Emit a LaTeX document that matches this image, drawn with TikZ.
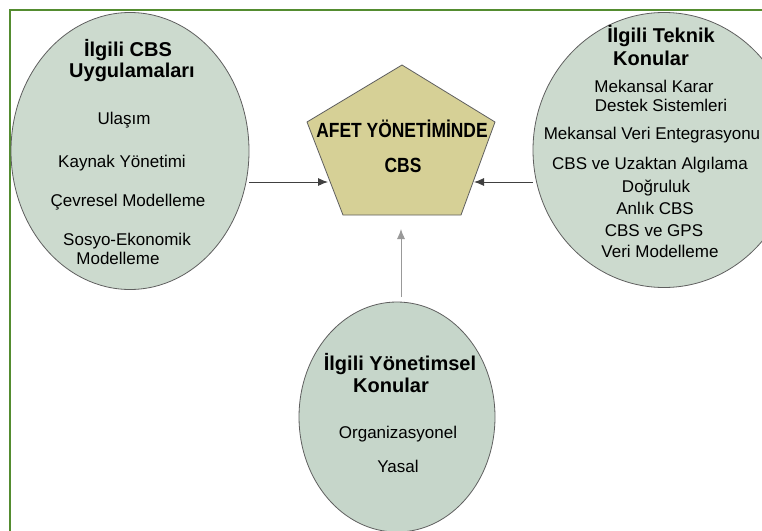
\documentclass[tikz,border=0pt]{standalone}
\usepackage{fontspec}
\setmainfont{Liberation Sans}
\usetikzlibrary{shapes.geometric,arrows.meta}

\definecolor{framegreen}{RGB}{84,140,48}
\definecolor{topicfill}{RGB}{204,218,206}
\definecolor{mgmtfill}{RGB}{198,214,202}
\definecolor{corefill}{RGB}{214,208,150}
\definecolor{rimgray}{RGB}{95,95,95}

\tikzset{
  topic/.style={ellipse, draw=rimgray, line width=0.8pt, fill=topicfill, inner sep=0pt},
  head/.style={anchor=base, inner sep=0pt, font=\fontsize{20}{22}\selectfont\bfseries},
  item/.style={anchor=base, inner sep=0pt, font=\fontsize{17}{19}\selectfont},
  core/.style={anchor=base, inner sep=0pt,
    font=\fontsize{20.5}{23}\selectfont\bfseries\addfontfeature{FakeStretch=0.85}},
  feed/.style={draw=#1, line width=0.9pt, -{Latex[length=10pt,width=8pt]}},
  feed/.default={black!75}
}

\begin{document}
\begin{tikzpicture}[x=1pt, y=-1pt]
  \useasboundingbox (0,0) rectangle (762,530);
  \clip (0,0) rectangle (762,530);
  \fill[white] (0,0) rectangle (762,530);
  \draw[framegreen, line width=2pt] (10,540) -- (10,10) -- (780,10);

  % the three topic ellipses
  \node[topic, minimum width=238pt, minimum height=277pt] (apps) at (130,151) {};
  \node[topic, minimum width=262pt, minimum height=275pt] (tech) at (664,150) {};
  \node[topic, fill=mgmtfill, minimum width=196pt, minimum height=230pt] (mgmt) at (397,417) {};

  % pentagon in the middle
  \draw[draw=rimgray, line width=0.8pt, fill=corefill]
    (402,65) coordinate (pT) -- (307,122) coordinate (pL) -- (343,215) coordinate (pBL)
    -- (461,215) coordinate (pBR) -- (495,122) coordinate (pR) -- cycle;
  \node[core] (core1) at (402,137) {AFET YÖNETİMİNDE};
  \node[core] (core2) at (403,172) {CBS};

  % texts
  \foreach \txt/\px/\py [count=\i] in {İlgili CBS/128/56, Uygulamaları/132/77}
    \node[head] (appsHead\i) at (\px,\py) {\txt};
  \foreach \txt/\px/\py [count=\i] in {Ulaşım/124/124, Kaynak Yönetimi/122/167,
      Çevresel Modelleme/128/206, Sosyo-Ekonomik/127/245, Modelleme/118/264}
    \node[item] (appsItem\i) at (\px,\py) {\txt};

  \foreach \txt/\px/\py [count=\i] in {İlgili Teknik/661/42, Konular/651/65}
    \node[head] (techHead\i) at (\px,\py) {\txt};
  \foreach \txt/\px/\py [count=\i] in {Mekansal Karar/654/92, Destek Sistemleri/661/111,
      Mekansal Veri Entegrasyonu/652/139, CBS ve Uzaktan Algılama/650/169,
      Doğruluk/656/192, Anlık CBS/655/214, CBS ve GPS/654/236, Veri Modelleme/660/257}
    \node[item] (techItem\i) at (\px,\py) {\txt};

  \foreach \txt/\px/\py [count=\i] in {İlgili Yönetimsel/400/370, Konular/391/392}
    \node[head] (mgmtHead\i) at (\px,\py) {\txt};
  \foreach \txt/\px/\py [count=\i] in {Organizasyonel/398/438, Yasal/398/472}
    \node[item] (mgmtItem\i) at (\px,\py) {\txt};

  % arrows into the pentagon
  \coordinate (coreW) at (328,182);
  \coordinate (coreE) at (474,182);
  \coordinate (coreS) at (401,229);
  \coordinate (mgmtN) at (401,297);
  \draw[feed] (coreW -| apps.east) -- (coreW);
  \draw[feed] (coreE -| tech.west) -- (coreE);
  \draw[feed=black!40] (mgmtN) -- (coreS);
\end{tikzpicture}
\end{document}
